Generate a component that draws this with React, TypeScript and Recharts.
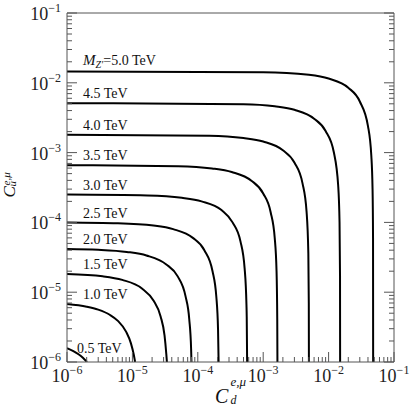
import React from "react";
import { LineChart, Line, XAxis, YAxis, LabelList } from "recharts";

// contour lines: [C_d, C_u]
const m50 = [[1e-6, 1.45e-2], [1e-3, 1.42e-2], [5e-3, 1.3e-2], [1e-2, 1.15e-2], [2e-2, 8.5e-3], [3e-2, 5.4e-3], [4e-2, 2.4e-3], [4.5e-2, 9e-4], [4.7e-2, 3e-4], [4.78e-2, 6e-5], [4.8e-2, 1e-6]];
const m45 = [[1e-6, 5.1e-3], [5e-4, 4.93e-3], [1.5e-3, 4.6e-3], [3e-3, 4.1e-3], [6e-3, 3.06e-3], [9e-3, 2.04e-3], [1.2e-2, 1.02e-3], [1.4e-2, 3.4e-4], [1.47e-2, 1e-4], [1.495e-2, 1.7e-5], [1.5e-2, 1e-6]];
const m40 = [[1e-6, 1.8e-3], [1.5e-4, 1.75e-3], [5e-4, 1.62e-3], [1e-3, 1.44e-3], [2e-3, 1.08e-3], [3e-3, 7.2e-4], [4e-3, 3.6e-4], [4.6e-3, 1.44e-4], [4.9e-3, 3.6e-5], [4.98e-3, 7e-6], [5e-3, 1e-6]];
const m35 = [[1e-6, 6.6e-4], [5e-5, 6.4e-4], [1.65e-4, 5.94e-4], [3.3e-4, 5.28e-4], [6.6e-4, 3.96e-4], [1e-3, 2.6e-4], [1.3e-3, 1.4e-4], [1.5e-3, 6e-5], [1.6e-3, 2e-5], [1.64e-3, 4e-6], [1.65e-3, 1e-6]];
const m30 = [[1e-6, 2.5e-4], [1.7e-5, 2.43e-4], [5.7e-5, 2.25e-4], [1.14e-4, 2e-4], [2.3e-4, 1.5e-4], [3.4e-4, 1e-4], [4.5e-4, 5.3e-5], [5.2e-4, 2.2e-5], [5.55e-4, 6.5e-6], [5.6e-4, 4.4e-6], [5.68e-4, 1e-6]];
const m25 = [[1e-6, 9.95e-5], [6e-6, 9.7e-5], [2.1e-5, 9e-5], [4.2e-5, 8e-5], [8.4e-5, 6e-5], [1.26e-4, 4e-5], [1.68e-4, 2e-5], [1.92e-4, 8.6e-6], [2.04e-4, 2.9e-6], [2.08e-4, 1e-6]];
const m20 = [[1e-6, 4.15e-5], [3e-6, 4.05e-5], [8.2e-6, 3.78e-5], [1.64e-5, 3.36e-5], [3.3e-5, 2.5e-5], [4.9e-5, 1.7e-5], [6.5e-5, 8.7e-6], [7.4e-5, 4.1e-6], [7.9e-5, 1.55e-6], [8e-5, 1e-6]];
const m15 = [[1e-6, 1.82e-5], [3.5e-6, 1.69e-5], [7e-6, 1.5e-5], [1.4e-5, 1.13e-5], [2.1e-5, 7.6e-6], [2.7e-5, 4.5e-6], [3.1e-5, 2.4e-6], [3.3e-5, 1.3e-6], [3.37e-5, 1e-6]];
const m10 = [[1e-6, 6.78e-6], [2e-6, 6.2e-6], [3e-6, 5.62e-6], [4.5e-6, 4.75e-6], [6e-6, 3.88e-6], [8e-6, 2.72e-6], [9.5e-6, 1.85e-6], [1.05e-5, 1.27e-6], [1.1e-5, 1e-6]];
const m05 = [[1e-6, 1.58e-6], [1.25e-6, 1.43e-6], [1.5e-6, 1.29e-6], [1.75e-6, 1.15e-6], [2.02e-6, 1e-6]];

const masses = ["5.0", "4.5", "4.0", "3.5", "3.0", "2.5", "2.0", "1.5", "1.0", "0.5"];
const contours = [m50, m45, m40, m35, m30, m25, m20, m15, m10, m05];

const decades = [1e-6, 1e-5, 1e-4, 1e-3, 1e-2, 1e-1];
const ticks: number[] = [];
decades.forEach((d, i) => {
  ticks.push(d);
  if (i < decades.length - 1) for (let k = 2; k <= 9; k++) ticks.push(d * k);
});

const FONT = "'Liberation Serif', 'DejaVu Serif', serif";
const AX = "#555";

const isDecade = (v: number) => Math.abs(Math.log10(v) - Math.round(Math.log10(v))) < 1e-6;
const expOf = (v: number) => Math.round(Math.log10(v));

function BottomTick({ x, y, payload }: any) {
  const v = payload.value;
  const major = isDecade(v);
  return (
    <g>
      <line x1={x} y1={y} x2={x} y2={y - (major ? 10 : 5)} stroke={AX} />
      {major && (
        <text x={x} y={y + 20} textAnchor="middle" fontSize={18} fontFamily={FONT} fill="#222">
          10<tspan dy={-8} fontSize={12}>−{-expOf(v)}</tspan>
        </text>
      )}
    </g>
  );
}

function TopTick({ x, y, payload }: any) {
  const major = isDecade(payload.value);
  return <line x1={x} y1={y} x2={x} y2={y + (major ? 10 : 5)} stroke={AX} />;
}

function LeftTick({ x, y, payload }: any) {
  const v = payload.value;
  const major = isDecade(v);
  return (
    <g>
      <line x1={x} y1={y} x2={x + (major ? 10 : 5)} y2={y} stroke={AX} />
      {major && (
        <text x={x - 6} y={y + 7} textAnchor="end" fontSize={18} fontFamily={FONT} fill="#222">
          10<tspan dy={-8} fontSize={12}>−{-expOf(v)}</tspan>
        </text>
      )}
    </g>
  );
}

function RightTick({ x, y, payload }: any) {
  const major = isDecade(payload.value);
  return <line x1={x} y1={y} x2={x - (major ? 10 : 5)} y2={y} stroke={AX} />;
}

function XTitle(props: any) {
  const vb = props.viewBox;
  const cx = vb.x + vb.width / 2;
  const y = vb.y;
  return (
    <g fontFamily={FONT} fontStyle="italic" fill="#111">
      <text x={cx - 15.5} y={y + 41} fontSize={20}>C</text>
      <text x={cx} y={y + 24} fontSize={13}>e,μ</text>
      <text x={cx} y={y + 42} fontSize={12}>d</text>
    </g>
  );
}

function YTitle(props: any) {
  const vb = props.viewBox;
  const cy = vb.y + vb.height / 2 + 10;
  return (
    <g transform={`translate(${vb.x - 51}, ${cy}) rotate(-90)`} fontFamily={FONT} fontStyle="italic" fill="#111">
      <text x={0} y={0} fontSize={17}>C</text>
      <text x={12} y={-5} fontSize={11}>e,μ</text>
      <text x={11} y={1} fontSize={11}>u</text>
    </g>
  );
}

function massLabel(mass: string) {
  return (props: any) => {
    if (props.index !== 0) return null;
    const vb = props.viewBox || props;
    const px = vb.x;
    const py = vb.y;
    if (mass === "5.0") {
      return (
        <text x={px + 16} y={py - 7} fontSize={14} fontFamily={FONT} fill="#111">
          <tspan fontStyle="italic" fontSize={15}>M</tspan>
          <tspan fontStyle="italic" fontSize={10} dy={3}>Z′</tspan>
          <tspan dy={-3}>=5.0 TeV</tspan>
        </text>
      );
    }
    if (mass === "0.5") {
      return (
        <text x={px + 10} y={py + 5} fontSize={14} fontFamily={FONT} fill="#111">
          {mass} TeV
        </text>
      );
    }
    return (
      <text x={px + 16} y={py - 5} fontSize={14} fontFamily={FONT} fill="#111">
        {mass} TeV
      </text>
    );
  };
}

export default function App() {
  const series = contours.map((c, i) => ({
    mass: masses[i],
    data: c.map(([x, y]) => ({ x, y })),
  }));

  return (
    <div style={{ position: "absolute", left: 0, top: 0, width: 417, height: 417, background: "#fff" }}>
      <LineChart width={417} height={417} margin={{ top: 12, right: 22, bottom: 54, left: 66 }}>
        <XAxis
          xAxisId="b"
          dataKey="x"
          type="number"
          scale="log"
          domain={[1e-6, 1e-1]}
          allowDataOverflow
          ticks={ticks}
          interval={0}
          height={1}
          tickSize={0}
          tickMargin={0}
          tickLine={false}
          tick={<BottomTick />}
          axisLine={{ stroke: AX }}
          label={{ content: XTitle }}
        />
        <XAxis
          xAxisId="t"
          orientation="top"
          type="number"
          scale="log"
          domain={[1e-6, 1e-1]}
          allowDataOverflow
          ticks={ticks}
          interval={0}
          height={1}
          tickSize={0}
          tickMargin={0}
          tickLine={false}
          tick={<TopTick />}
          axisLine={{ stroke: AX }}
        />
        <YAxis
          yAxisId="l"
          type="number"
          scale="log"
          domain={[1e-6, 1e-1]}
          allowDataOverflow
          ticks={ticks}
          interval={0}
          width={1}
          tickSize={0}
          tickMargin={0}
          tickLine={false}
          tick={<LeftTick />}
          axisLine={{ stroke: AX }}
          label={{ content: YTitle }}
        />
        <YAxis
          yAxisId="r"
          orientation="right"
          type="number"
          scale="log"
          domain={[1e-6, 1e-1]}
          allowDataOverflow
          ticks={ticks}
          interval={0}
          width={1}
          tickSize={0}
          tickMargin={0}
          tickLine={false}
          tick={<RightTick />}
          axisLine={{ stroke: AX }}
        />
        {series.map((s) => (
          <Line
            key={s.mass}
            xAxisId="b"
            yAxisId="l"
            data={s.data}
            dataKey="y"
            type="monotone"
            stroke="#000"
            strokeWidth={2}
            dot={false}
            isAnimationActive={false}
          >
            <LabelList dataKey="y" content={massLabel(s.mass)} />
          </Line>
        ))}
      </LineChart>
    </div>
  );
}
